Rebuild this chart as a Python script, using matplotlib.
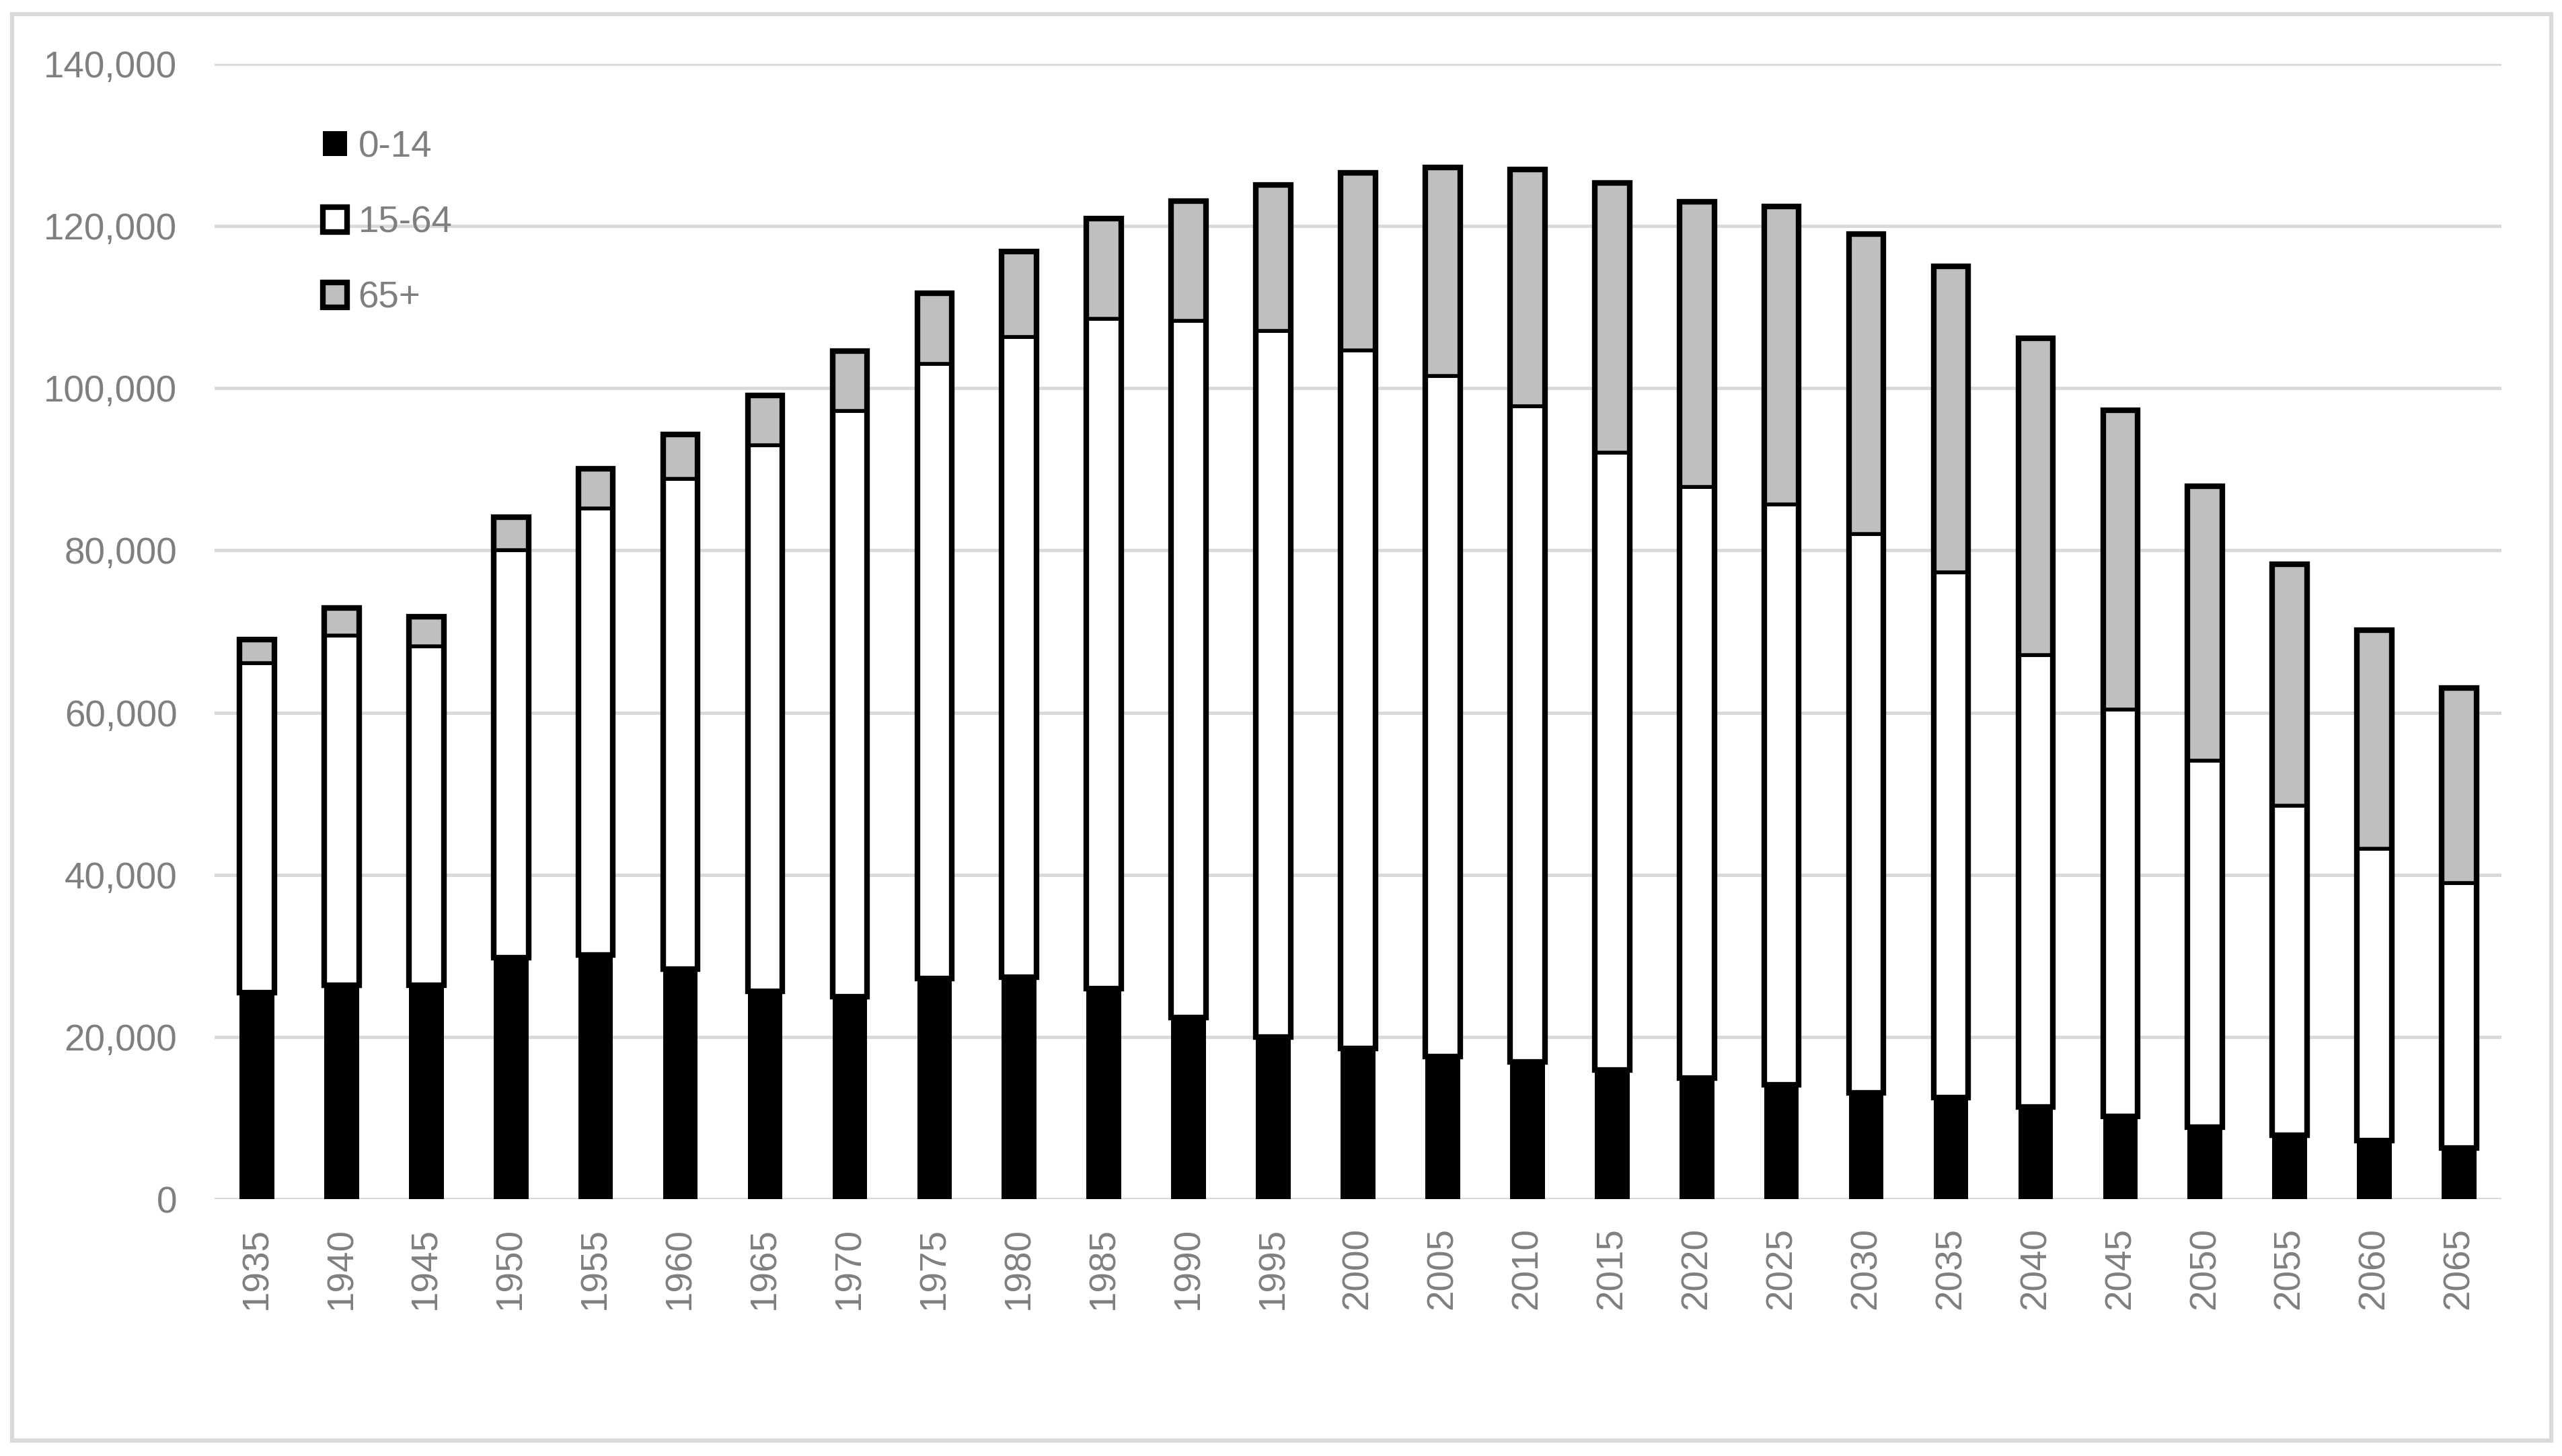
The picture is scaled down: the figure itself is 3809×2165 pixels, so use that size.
"""
Stacked population bars by age group (0-14 / 15-64 / 65+), 1935-2065.
"""

import matplotlib
matplotlib.use("Agg")
import matplotlib.pyplot as plt
from matplotlib.patches import Patch, Rectangle
from matplotlib.ticker import FuncFormatter
import numpy as np


years = [1935, 1940, 1945, 1950, 1955, 1960, 1965, 1970, 1975, 1980,
         1985, 1990, 1995, 2000, 2005, 2010, 2015, 2020, 2025, 2030,
         2035, 2040, 2045, 2050, 2055, 2060, 2065]

# thousands of persons
age_0_14 = [25500, 26400, 26400, 29800, 30100, 28400, 25600, 25000, 27200, 27400,
            26000, 22400, 20000, 18600, 17600, 16900, 15900, 14900, 14100, 13100,
            12500, 11400, 10200, 8900, 7900, 7200, 6300]
age_15_64 = [40600, 43100, 41800, 50200, 55100, 60400, 67400, 72200, 75800, 78900,
             82600, 85900, 87100, 86100, 83900, 80900, 76200, 72900, 71600, 68900,
             64800, 55700, 50200, 45200, 40600, 36000, 32700]
age_65 = [2900, 3400, 3600, 4100, 4900, 5500, 6100, 7400, 8700, 10600,
          12300, 14800, 18000, 21900, 25700, 29200, 33200, 35200, 36700, 37000,
          37700, 39100, 36900, 33800, 29800, 27000, 24000]

labels = ["0-14", "15-64", "65+"]

FONT = ["Liberation Sans", "DejaVu Sans"]
TEXT_GREY = "#7F7F7F"
GRID_GREY = "#D9D9D9"
OLD_GREY = "#BFBFBF"

W, H, DPI = 3809, 2165, 250


def main():
    plt.rcParams["font.family"] = FONT

    fig = plt.figure(figsize=(W / DPI, H / DPI), dpi=DPI)
    ax = fig.add_axes([319 / W, 1 - 1783 / H, (3719 - 319) / W, (1783 - 95) / H])

    x = np.arange(len(years))
    young = np.array(age_0_14)
    work = np.array(age_15_64)
    old = np.array(age_65)
    bw = 0.41

    ax.bar(x, young, width=bw, color="black", linewidth=0, zorder=3)
    ax.bar(x, work, bottom=young, width=bw, facecolor="white",
           edgecolor="black", linewidth=1.6, zorder=3)
    ax.bar(x, old, bottom=young + work, width=bw, facecolor=OLD_GREY,
           edgecolor="black", linewidth=1.6, zorder=3)
    # heavier outline round the white + grey part, as in the original
    ax.bar(x, work + old, bottom=young, width=bw, fill=False,
           edgecolor="black", linewidth=2.4, zorder=4)

    ax.set_xlim(-0.5, len(years) - 0.5)
    ax.set_ylim(0, 140000)
    ax.set_yticks(np.arange(0, 140001, 20000))
    ax.yaxis.set_major_formatter(FuncFormatter(lambda v, _: f"{int(v):,}"))
    ax.set_xticks(x)
    ax.set_xticklabels([str(y) for y in years], rotation=90)

    ax.grid(axis="y", color=GRID_GREY, linewidth=1.4, zorder=0)
    ax.set_axisbelow(True)
    for s in ax.spines.values():
        s.set_visible(False)
    ax.tick_params(axis="both", length=0, labelsize=15.8, colors=TEXT_GREY)
    ax.tick_params(axis="y", pad=16)
    ax.tick_params(axis="x", pad=12)

    handles = [
        Patch(facecolor="black", edgecolor="black", linewidth=0),
        Patch(facecolor="white", edgecolor="black", linewidth=2.4),
        Patch(facecolor=OLD_GREY, edgecolor="black", linewidth=2.4),
    ]
    ax.legend(handles, labels, loc="upper left",
              bbox_to_anchor=(480 / W, 1 - 193 / H), bbox_transform=fig.transFigure,
              frameon=False, fontsize=15.8, labelcolor=TEXT_GREY,
              handlelength=0.66, handleheight=0.66, handletextpad=0.3,
              labelspacing=1.1, borderpad=0, borderaxespad=0)

    # light grey frame round the whole chart
    fig.patches.append(Rectangle((18 / W, 1 - 2142 / H), (3793 - 18) / W, (2142 - 21) / H,
                                 transform=fig.transFigure, fill=False,
                                 edgecolor=GRID_GREY, linewidth=1.8))

    fig.savefig("out.png", dpi=DPI)


if __name__ == "__main__":
    main()
